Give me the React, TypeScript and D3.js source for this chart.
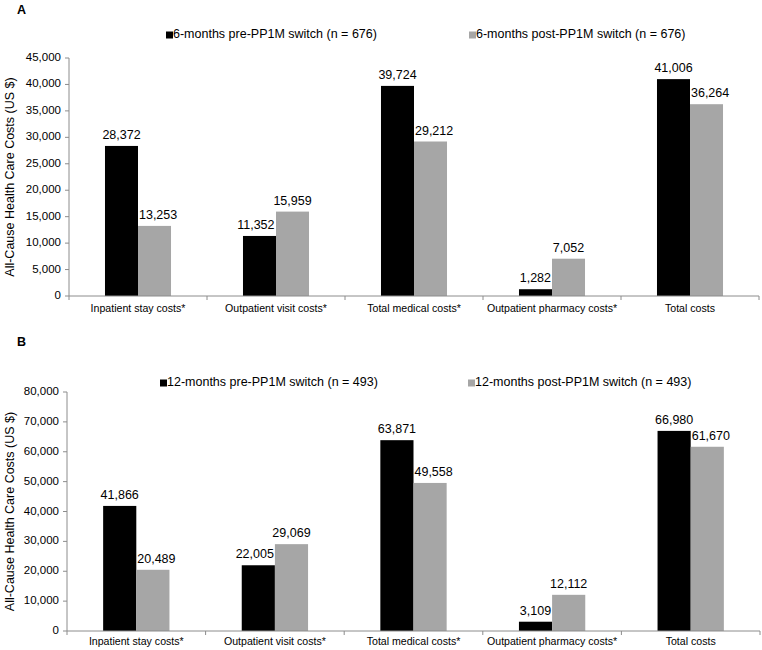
import React from "react";
import * as d3 from "d3";

const categories = [
  "Inpatient stay costs*",
  "Outpatient visit costs*",
  "Total medical costs*",
  "Outpatient pharmacy costs*",
  "Total costs",
];
const preA = [28372, 11352, 39724, 1282, 41006];
const postA = [13253, 15959, 29212, 7052, 36264];
const preB = [41866, 22005, 63871, 3109, 66980];
const postB = [20489, 29069, 49558, 12112, 61670];
const legendA = ["6-months pre-PP1M switch (n = 676)", "6-months post-PP1M switch (n = 676)"];
const legendB = ["12-months pre-PP1M switch (n = 493)", "12-months post-PP1M switch (n = 493)"];
const ticksA = d3.range(0, 45001, 5000);
const ticksB = d3.range(0, 80001, 10000);
const yTitle = "All-Cause Health Care Costs (US $)";

const FONT = "'Liberation Sans', Arial, Helvetica, sans-serif";
const BLACK = "#000000";
const GRAY = "#a6a6a6";
const AXIS = "#8c8c8c";
const LABEL_SIZE = 12.5;

function labelWidth(s: string) {
  let w = 0;
  for (const ch of s) w += ch === "," ? 0.278 : 0.556;
  return w * LABEL_SIZE;
}

type PanelProps = {
  letter: string;
  letterY: number;
  legend: string[];
  legendY: number;
  legendX: number[];
  pre: number[];
  post: number[];
  ticks: number[];
  left: number;
  right: number;
  top: number;
  bottom: number;
  catLabelY: number;
};

function Panel(p: PanelProps) {
  const yMax = p.ticks[p.ticks.length - 1];
  const y = d3.scaleLinear().domain([0, yMax]).range([p.bottom, p.top]);
  const x0 = d3.scaleBand().domain(categories).range([p.left, p.right]).paddingInner(0).paddingOuter(0);
  const bw = x0.bandwidth();
  const inner = d3.scaleBand().domain(["pre", "post"]).range([0, bw]).paddingOuter(1.09).paddingInner(0);
  const fmt = d3.format(",");
  const series = [
    { key: "pre", vals: p.pre, other: p.post, dir: -1, color: BLACK },
    { key: "post", vals: p.post, other: p.pre, dir: 1, color: GRAY },
  ];
  const boundaries = d3.range(0, categories.length + 1).map((i) => p.left + i * bw);
  const barW = inner.bandwidth();
  return (
    <g>
      <text x={17} y={p.letterY} fontFamily={FONT} fontSize={12.5} fontWeight="bold" dominantBaseline="middle">
        {p.letter}
      </text>
      {p.legend.map((t, i) => (
        <g key={t}>
          <rect x={p.legendX[i]} y={p.legendY - 3.5} width={7} height={7} fill={i === 0 ? BLACK : GRAY} />
          <text x={p.legendX[i] + 7} y={p.legendY} fontFamily={FONT} fontSize={12.5} dominantBaseline="middle" fill="#000">
            {t}
          </text>
        </g>
      ))}
      <text
        transform={`translate(${11},${(p.top + p.bottom) / 2}) rotate(-90)`}
        textAnchor="middle"
        dominantBaseline="middle"
        fontFamily={FONT}
        fontSize={12.5}
      >
        {yTitle}
      </text>
      {p.ticks.map((t) => (
        <g key={t}>
          <line x1={p.left - 4} x2={p.left} y1={y(t)} y2={y(t)} stroke={AXIS} />
          <text x={p.left - 8} y={y(t)} textAnchor="end" dominantBaseline="middle" fontFamily={FONT} fontSize={11.5}>
            {fmt(t)}
          </text>
        </g>
      ))}
      {series.map((s) =>
        s.vals.map((v, i) => {
          const bx = (x0(categories[i]) as number) + (inner(s.key) as number);
          const txt = fmt(v);
          const shift = s.other[i] > v ? Math.max(0, (labelWidth(txt) - barW) / 2 + 1) * s.dir : 0;
          return (
            <g key={s.key + i}>
              <rect x={bx} y={y(v)} width={barW} height={p.bottom - y(v)} fill={s.color} />
              <text
                x={bx + barW / 2 + shift}
                y={y(v) - 7}
                textAnchor="middle"
                fontFamily={FONT}
                fontSize={LABEL_SIZE}
              >
                {txt}
              </text>
            </g>
          );
        })
      )}
      <line x1={p.left} x2={p.left} y1={p.top} y2={p.bottom} stroke={AXIS} />
      <line x1={p.left} x2={p.right} y1={p.bottom} y2={p.bottom} stroke={AXIS} />
      {boundaries.map((b, i) => (
        <line key={i} x1={b} x2={b} y1={p.bottom} y2={p.bottom + 4} stroke={AXIS} />
      ))}
      {categories.map((c) => (
        <text
          key={c}
          x={(x0(c) as number) + bw / 2}
          y={p.catLabelY}
          textAnchor="middle"
          dominantBaseline="middle"
          fontFamily={FONT}
          fontSize={10.6}
        >
          {c}
        </text>
      ))}
    </g>
  );
}

export default function App() {
  return (
    <svg
      width={762}
      height={650}
      style={{ position: "absolute", left: 0, top: 0, background: "#fff" }}
    >
      <rect width={762} height={650} fill="#fff" />
      <Panel
        letter="A"
        letterY={11}
        legend={legendA}
        legendY={35}
        legendX={[166, 469]}
        pre={preA}
        post={postA}
        ticks={ticksA}
        left={69}
        right={759}
        top={58}
        bottom={296}
        catLabelY={309}
      />
      <Panel
        letter="B"
        letterY={343}
        legend={legendB}
        legendY={383}
        legendX={[160, 468]}
        pre={preB}
        post={postB}
        ticks={ticksB}
        left={67}
        right={760}
        top={392}
        bottom={631}
        catLabelY={642}
      />
    </svg>
  );
}
